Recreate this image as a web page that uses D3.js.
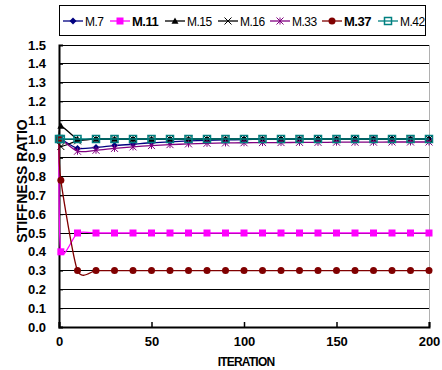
<!DOCTYPE html>
<html><head><meta charset="utf-8">
<script src="https://cdn.jsdelivr.net/npm/d3@7"></script>
<style>body{margin:0;background:#fff}svg{display:block}text{font-family:"Liberation Sans",Arial,sans-serif}</style>
</head><body><svg id="c" width="442" height="370"></svg>
<script>
const iterations = [0,1,10,20,30,40,50,60,70,80,90,100,110,120,130,140,150,160,170,180,190,200];
const seriesNames = ["M.7","M.11","M.15","M.16","M.33","M.37","M.42"];
const m7  = [1.0,1.0,0.95,0.955,0.965,0.972,0.98,0.985,0.99,0.993,0.995,0.997,0.998,0.998,0.999,0.999,0.999,1.0,1.0,1.0,1.0,1.0];
const m11 = [1.0,0.40,0.5,0.5,0.5,0.5,0.5,0.5,0.5,0.5,0.5,0.5,0.5,0.5,0.5,0.5,0.5,0.5,0.5,0.5,0.5,0.5];
const m15 = [1.0,1.07,1.0,1.0,1.0,1.0,1.0,1.0,1.0,1.0,1.0,1.0,1.0,1.0,1.0,1.0,1.0,1.0,1.0,1.0,1.0,1.0];
const m16 = [1.0,0.96,0.99,1.0,1.0,1.0,1.0,1.0,1.0,1.0,1.0,1.0,1.0,1.0,1.0,1.0,1.0,1.0,1.0,1.0,1.0,1.0];
const m33 = [1.0,1.0,0.935,0.94,0.95,0.958,0.965,0.97,0.974,0.977,0.979,0.98,0.981,0.981,0.982,0.982,0.983,0.983,0.983,0.984,0.984,0.984];
const m37 = [1.0,0.78,0.3,0.3,0.3,0.3,0.3,0.3,0.3,0.3,0.3,0.3,0.3,0.3,0.3,0.3,0.3,0.3,0.3,0.3,0.3,0.3];
const m42 = [1.0,1.0,1.0,1.0,1.0,1.0,1.0,1.0,1.0,1.0,1.0,1.0,1.0,1.0,1.0,1.0,1.0,1.0,1.0,1.0,1.0,1.0];
const yTicks = [0,0.1,0.2,0.3,0.4,0.5,0.6,0.7,0.8,0.9,1.0,1.1,1.2,1.3,1.4,1.5];
const xTicks = [0,50,100,150,200];
const colors = ["#000080","#FF00FF","#000000","#000000","#800080","#800000","#008080"];
const markers = ["diamond","square","triangle","x","star","circle","hsquare"];
const boldLegend = [false,true,false,false,false,true,false];
const allValues = [m7,m11,m15,m16,m33,m37,m42];

const svg = d3.select("#c");
const L=59, R=429, T=45, B=327;
const x = d3.scaleLinear().domain([0,200]).range([L,R]);
const y = d3.scaleLinear().domain([0,1.5]).range([B,T]);

// gridlines
svg.append("g").selectAll("line").data(yTicks.filter(d=>d>0)).join("line")
  .attr("x1",L).attr("x2",R).attr("y1",d=>y(d)).attr("y2",d=>y(d))
  .attr("stroke","#000").attr("stroke-width",1).attr("shape-rendering","crispEdges");
// right border
svg.append("line").attr("x1",R).attr("x2",R).attr("y1",T).attr("y2",B)
  .attr("stroke","#b0b0b0").attr("stroke-width",1).attr("shape-rendering","crispEdges");

// axes
const yAxis = d3.axisLeft(y).tickValues(yTicks).tickFormat(d3.format(".1f")).tickSize(-4).tickPadding(13);
const gy = svg.append("g").attr("transform",`translate(${L},0)`).call(yAxis);
gy.select(".domain").attr("stroke","#000").attr("stroke-width",2);
gy.selectAll("text").attr("font-size",13).attr("font-weight","bold").attr("fill","#000");
const xAxis = d3.axisBottom(x).tickValues(xTicks).tickSize(-5).tickPadding(10);
const gx = svg.append("g").attr("transform",`translate(0,${B})`).call(xAxis);
gx.select(".domain").attr("stroke","#000").attr("stroke-width",2);
gx.selectAll(".tick line").attr("stroke-width",1.5);
gx.selectAll("text").attr("font-size",13).attr("font-weight","bold").attr("fill","#000");

svg.append("text").attr("x",(L+R)/2+2).attr("y",366).attr("text-anchor","middle")
  .attr("font-size",12).attr("font-weight","bold").attr("letter-spacing","-0.8").text("ITERATION");
svg.append("text").attr("transform","translate(27,181) rotate(-90)").attr("text-anchor","middle")
  .attr("font-size",14).attr("font-weight","bold").text("STIFFNESS RATIO");

function marker(g, type, color, cx, cy){
  const s=3.5;
  if(type==="diamond") g.append("path").attr("d",`M${cx},${cy-s}L${cx+s},${cy}L${cx},${cy+s}L${cx-s},${cy}Z`).attr("fill",color);
  else if(type==="square") g.append("rect").attr("x",cx-s).attr("y",cy-s).attr("width",2*s).attr("height",2*s).attr("fill",color);
  else if(type==="hsquare") g.append("rect").attr("x",cx-s).attr("y",cy-s).attr("width",2*s).attr("height",2*s).attr("fill","none").attr("stroke",color).attr("stroke-width",1.5);
  else if(type==="triangle") g.append("path").attr("d",`M${cx},${cy-s}L${cx+s},${cy+s*0.8}L${cx-s},${cy+s*0.8}Z`).attr("fill",color);
  else if(type==="circle") g.append("circle").attr("cx",cx).attr("cy",cy).attr("r",s).attr("fill",color);
  else if(type==="x") g.append("path").attr("d",`M${cx-s},${cy-s}L${cx+s},${cy+s}M${cx-s},${cy+s}L${cx+s},${cy-s}`).attr("stroke",color).attr("stroke-width",1);
  else if(type==="star") g.append("path").attr("d",`M${cx-s},${cy-s}L${cx+s},${cy+s}M${cx-s},${cy+s}L${cx+s},${cy-s}M${cx},${cy-s}L${cx},${cy+s}`).attr("stroke",color).attr("stroke-width",1);
}

const line = d3.line().x(d=>x(d[0])).y(d=>y(d[1])).curve(d3.curveCardinal.tension(0.3));
allValues.forEach((vals,i)=>{
  const g = svg.append("g");
  const pts = iterations.map((it,j)=>[it,vals[j]]);
  g.append("path").datum(pts).attr("d",line).attr("fill","none").attr("stroke",colors[i]).attr("stroke-width",1.3);
  pts.forEach(p=>marker(g,markers[i],colors[i],x(p[0]),y(p[1])));
});

// legend
const lg = svg.append("g");
lg.append("rect").attr("x",59.5).attr("y",5.5).attr("width",366).attr("height",30).attr("fill","#fff").attr("stroke","#000");
const legX = [63,110,165,218,270,322,378];
seriesNames.forEach((n,i)=>{
  const cy=21;
  lg.append("line").attr("x1",legX[i]).attr("x2",legX[i]+20).attr("y1",cy).attr("y2",cy).attr("stroke",colors[i]).attr("stroke-width",1.3);
  marker(lg,markers[i],colors[i],legX[i]+10,cy);
  lg.append("text").attr("x",legX[i]+22).attr("y",cy+4.5).attr("font-size",boldLegend[i]?13:12)
    .attr("font-weight",boldLegend[i]?"bold":"normal").attr("letter-spacing","-0.5").text(n);
});
</script></body></html>
